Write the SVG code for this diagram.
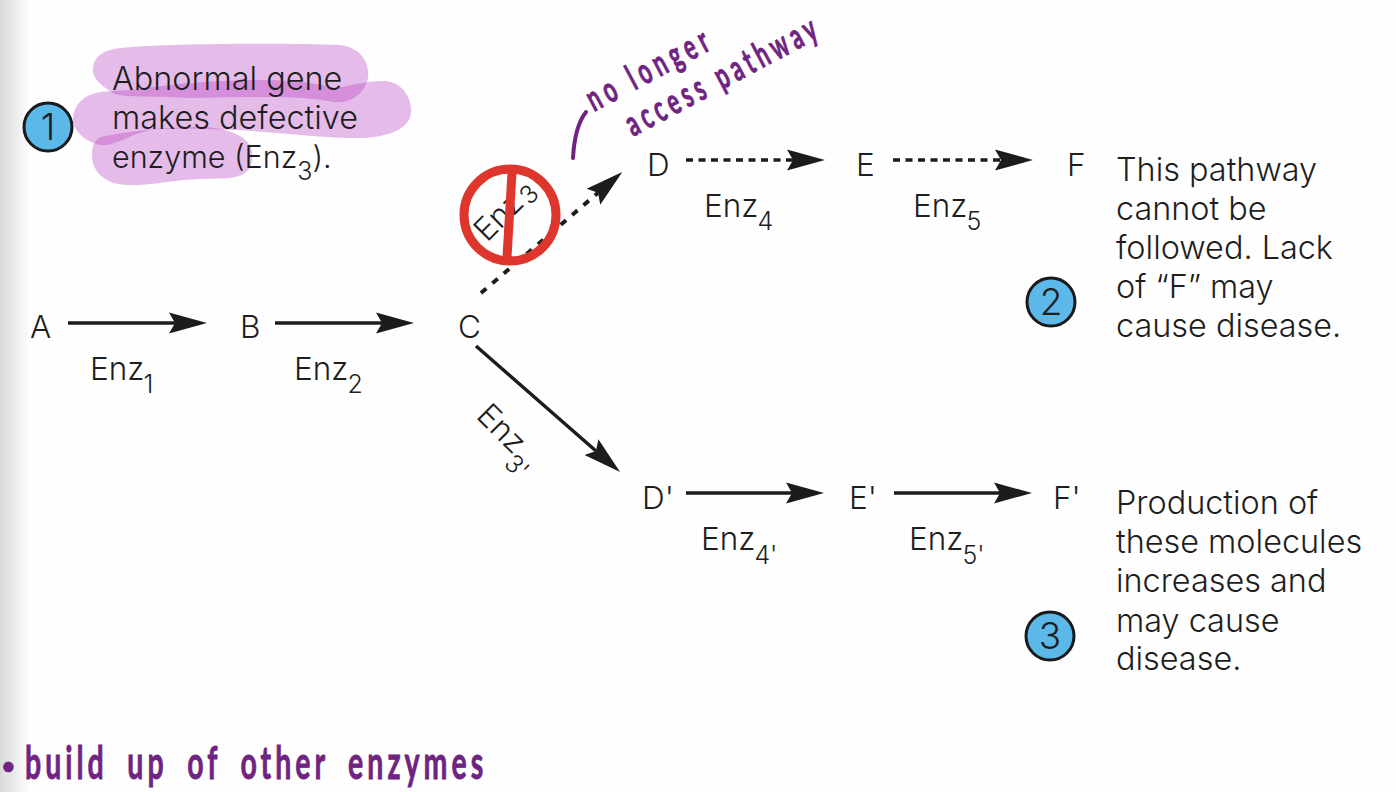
<svg xmlns="http://www.w3.org/2000/svg" width="1396" height="792" viewBox="0 0 1396 792">
<style>
.t{font-family:"Inter","Open Sans","Liberation Sans",sans-serif;font-size:31.500px;font-weight:300;fill:#1e1e1e}
.p{font-size:32.400px}
.sub{font-size:25px}
.hl{fill:#ac23b9;fill-opacity:.3}
.a{stroke:#1c1c1c;stroke-width:3.500;fill:none;marker-end:url(#head)}
.d{stroke-dasharray:7 5.500}
.dd{stroke-dasharray:7 8;stroke-width:4}
.b{fill:#5cb8e8;stroke:#1a1a1a;stroke-width:3}
.n{font-size:37px;text-anchor:middle}
.h{font-family:"Lato","Liberation Sans",sans-serif;font-weight:700;fill:#6f2382;stroke:#6f2382;stroke-width:.8}
</style>
<defs>
<linearGradient id="edge" x1="0" x2="1" y1="0" y2="0"><stop offset="0" stop-color="#d9d9d9"/><stop offset="1" stop-color="#fefefe"/></linearGradient>
<marker id="head" markerUnits="userSpaceOnUse" markerWidth="42" markerHeight="26" refX="6" refY="13" orient="auto" overflow="visible"><path d="M0,2.500 L38,13 L0,23.500 L6,13Z" fill="#1c1c1c"/></marker>
</defs>
<rect width="1396" height="792" fill="#fefefe"/>
<rect width="30" height="792" fill="url(#edge)"/>
<g id="highlights">
<path class="hl" d="M120,48 C170,43 290,43 340,45 C362,47 372,66 367,82 C362,96 348,104 333,102 C300,94 220,98 190,98 C160,96 130,98 115,94 C100,85 92,78 93,68 C94,56 104,50 120,48Z"/>
<path class="hl" d="M100,92 C120,90 130,91 140,89 C170,84 220,80 267,80 C295,80 320,84 335,88 C350,86 370,80 386,81 C404,83 412,100 411,112 C410,128 392,136 365,138 C330,139 280,132 233,130 C200,129 170,128 150,130 C130,134 115,147 100,145 C85,142 72,130 73,118 C74,104 84,95 100,92Z"/>
<path class="hl" d="M100,137 C125,132 160,127 200,127 C225,127 245,135 251,147 C254,158 252,168 245,173 C235,180 220,178 200,179 C170,180 140,188 118,184 C100,180 92,168 92,155 C92,147 94,141 100,137Z"/>
</g>
<g id="connectors">
<path class="a" d="M68,323H175"/>
<path class="a" d="M275,323H382"/>
<path class="a dd" d="M481,293L598,192.800"/>
<path class="a" d="M476,346L596,451"/>
<path class="a d" d="M686,160H793"/>
<path class="a d" d="M893,160H1001"/>
<path class="a" d="M686,493H792"/>
<path class="a" d="M894,493H1000"/>
</g>
<g id="step1"><circle class="b" cx="48" cy="127" r="24"/><text class="t n" x="48" y="140">1</text>
<text class="t p" x="112" y="90">Abnormal gene</text><text class="t p" x="112" y="129">makes defective</text><text class="t" style="font-size:30.500px" x="112" y="168">enzyme (Enz<tspan class="sub" dy="12">3</tspan><tspan dy="-12">).</tspan></text></g>
<g id="step2"><circle class="b" cx="1051" cy="302" r="24"/><text class="t n" x="1051" y="315">2</text>
<text class="t p" x="1116" y="181">This pathway</text><text class="t p" x="1116" y="220">cannot be</text><text class="t p" x="1116" y="259">followed. Lack</text><text class="t p" x="1116" y="298">of “F” may</text><text class="t p" x="1116" y="337">cause disease.</text></g>
<g id="step3"><circle class="b" cx="1050" cy="636" r="24"/><text class="t n" x="1050" y="649">3</text>
<text class="t p" x="1116" y="514">Production of</text><text class="t p" x="1116" y="553">these molecules</text><text class="t p" x="1116" y="592">increases and</text><text class="t p" x="1116" y="632">may cause</text><text class="t p" x="1116" y="670">disease.</text></g>
<g id="nodeA"><text class="t" x="30" y="338">A</text></g>
<g id="nodeB"><text class="t" x="240" y="338">B</text></g>
<g id="nodeC"><text class="t" x="458" y="338">C</text></g>
<g id="nodeD"><text class="t" x="647" y="176">D</text></g>
<g id="nodeE"><text class="t" x="856" y="176">E</text></g>
<g id="nodeF"><text class="t" x="1067" y="176">F</text></g>
<g id="nodeD2"><text class="t" x="642" y="509">D'</text></g>
<g id="nodeE2"><text class="t" x="849" y="509">E'</text></g>
<g id="nodeF2"><text class="t" x="1053" y="509">F'</text></g>
<g id="enz1"><text class="t" x="90" y="380">Enz<tspan class="sub" dy="13" dx="-1">1</tspan></text></g>
<g id="enz2"><text class="t" x="294" y="380">Enz<tspan class="sub" dy="13" dx="-1">2</tspan></text></g>
<g id="enz4"><text class="t" x="704" y="217">Enz<tspan class="sub" dy="13" dx="-1">4</tspan></text></g>
<g id="enz5"><text class="t" x="913" y="217">Enz<tspan class="sub" dy="13" dx="-1">5</tspan></text></g>
<g id="enz4p"><text class="t" x="701" y="550">Enz<tspan class="sub" dy="14" dx="-1">4'</tspan></text></g>
<g id="enz5p"><text class="t" x="909" y="550">Enz<tspan class="sub" dy="14" dx="-1">5'</tspan></text></g>
<g id="enz3p"><text class="t" transform="translate(475,417) rotate(45)">Enz<tspan class="sub" dy="14" dx="-1">3'</tspan></text></g>
<g id="blocked">
<circle cx="510" cy="215" r="46" fill="none" stroke="#de352d" stroke-width="9"/>
<text class="t" transform="translate(487,243) rotate(-45)">Enz<tspan class="sub" dy="4" dx="2">3</tspan></text>
<path d="M512,173L507,257" stroke="#de352d" stroke-width="9"/>
</g>
<g id="notes">
<path d="M586,112C578,122 574,140 573,158" fill="none" stroke="#6f2382" stroke-width="4" stroke-linecap="round"/>
<text class="h" font-size="36" letter-spacing="9" transform="translate(594,112) rotate(-28) scale(.6,1)">no longer</text>
<text class="h" font-size="36" letter-spacing="8" transform="translate(633,137) rotate(-28) scale(.6,1)">access pathway</text>
<text class="h" font-size="22" x="2" y="774">•</text>
<text class="h" font-size="46" transform="translate(25,779) scale(.62,1)" textLength="739" lengthAdjust="spacing" word-spacing="14">build up of other enzymes</text>
</g>
</svg>
